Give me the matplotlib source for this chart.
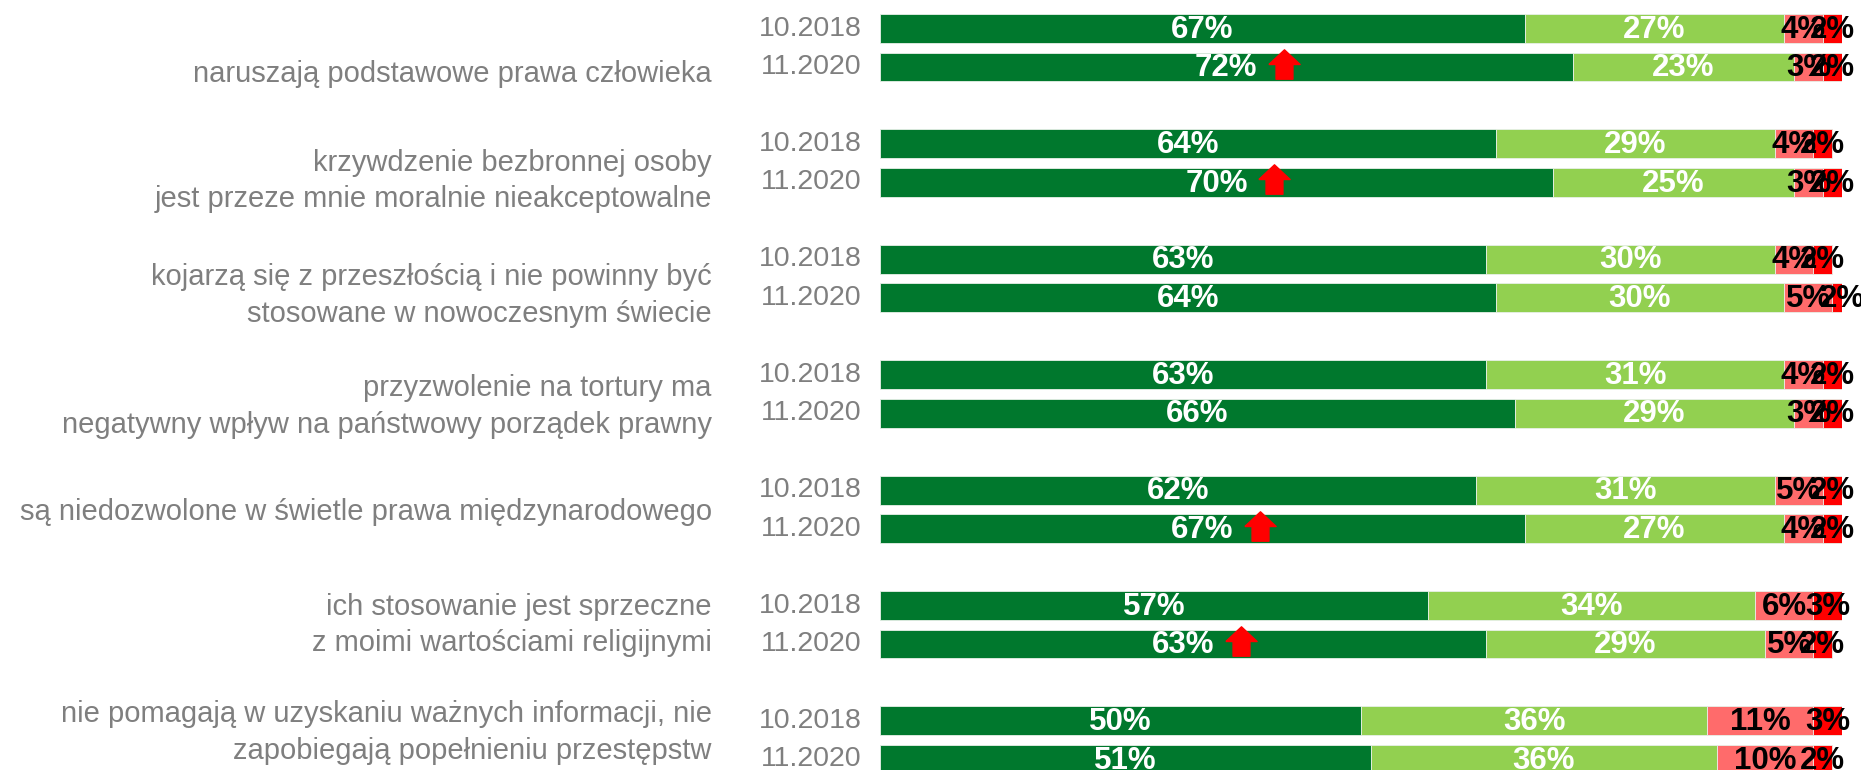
import numpy as np
import matplotlib.pyplot as plt
from matplotlib.path import Path

plt.rcParams['font.family'] = ['Liberation Sans', 'DejaVu Sans']

statements = [
    'naruszają podstawowe prawa człowieka',
    'krzywdzenie bezbronnej osoby\njest przeze mnie moralnie nieakceptowalne',
    'kojarzą się z przeszłością i nie powinny być\nstosowane w nowoczesnym świecie',
    'przyzwolenie na tortury ma\nnegatywny wpływ na państwowy porządek prawny',
    'są niedozwolone w świetle prawa międzynarodowego',
    'ich stosowanie jest sprzeczne\nz moimi wartościami religijnymi',
    'nie pomagają w uzyskaniu ważnych informacji, nie\nzapobiegają popełnieniu przestępstw',
]
waves = ['10.2018', '11.2020']

# shares per statement: [2018, 2020]
strongly_agree = [[67, 72], [64, 70], [63, 64], [63, 66], [62, 67], [57, 63], [50, 51]]
rather_agree = [[27, 23], [29, 25], [30, 30], [31, 29], [31, 27], [34, 29], [36, 36]]
rather_disagree = [[4, 3], [4, 3], [4, 5], [4, 3], [5, 4], [6, 5], [11, 10]]
strongly_disagree = [[2, 2], [2, 2], [2, 2], [2, 2], [2, 2], [3, 2], [3, 2]]
# significant increase in 2020
increase = [True, True, False, False, True, True, False]

# vertical nudge of statement labels from group centre (in row units)
label_shift = [0.69, 0.47, 0.44, 0.33, 0.06, 0.0, -0.2]

colors = ['#00782D', '#92D050', '#FF6B6B', '#FF0000']
text_colors = ['white', 'white', 'black', 'black']

fig = plt.figure(figsize=(18.61, 7.70), dpi=100)
ax = fig.add_axes([0.4729, 0, 0.5169, 1])

series = [np.array(strongly_agree), np.array(rather_agree),
          np.array(rather_disagree), np.array(strongly_disagree)]

arrow = Path([(-0.5, 0.0), (0.0, 0.47), (0.5, 0.0), (0.27, 0.0), (0.27, -0.47),
              (-0.27, -0.47), (-0.27, 0.0), (-0.5, 0.0)])

for i, stmt in enumerate(statements):
    for j, wave in enumerate(waves):
        y = 3 * i + j
        left = 0
        for k, s in enumerate(series):
            v = s[i, j]
            ax.barh(y, v, left=left, height=0.75, color=colors[k],
                    edgecolor='#E8F0E8', linewidth=0.6)
            ax.text(left + v / 2, y + 0.03, f'{v}%', ha='center', va='center',
                    color=text_colors[k], fontsize=22.5, fontweight='bold')
            left += v
        ax.text(-1.9, y, wave, ha='right', va='center', color='#7F7F7F',
                fontsize=20.5)
        if j == 1 and increase[i]:
            ax.plot(series[0][i, j] / 2 + 6, y - 0.08, marker=arrow,
                    markersize=22.5, color='#FF0000', linestyle='none')
    ax.text(-17.5, 3 * i + 0.5 + label_shift[i], stmt, ha='right', va='center',
            color='#7F7F7F', fontsize=21, linespacing=1.38)

ax.set_xlim(0, 100)
ax.set_ylim(19.276, -0.741)
ax.axis('off')

fig.savefig('out.png', dpi=100)
